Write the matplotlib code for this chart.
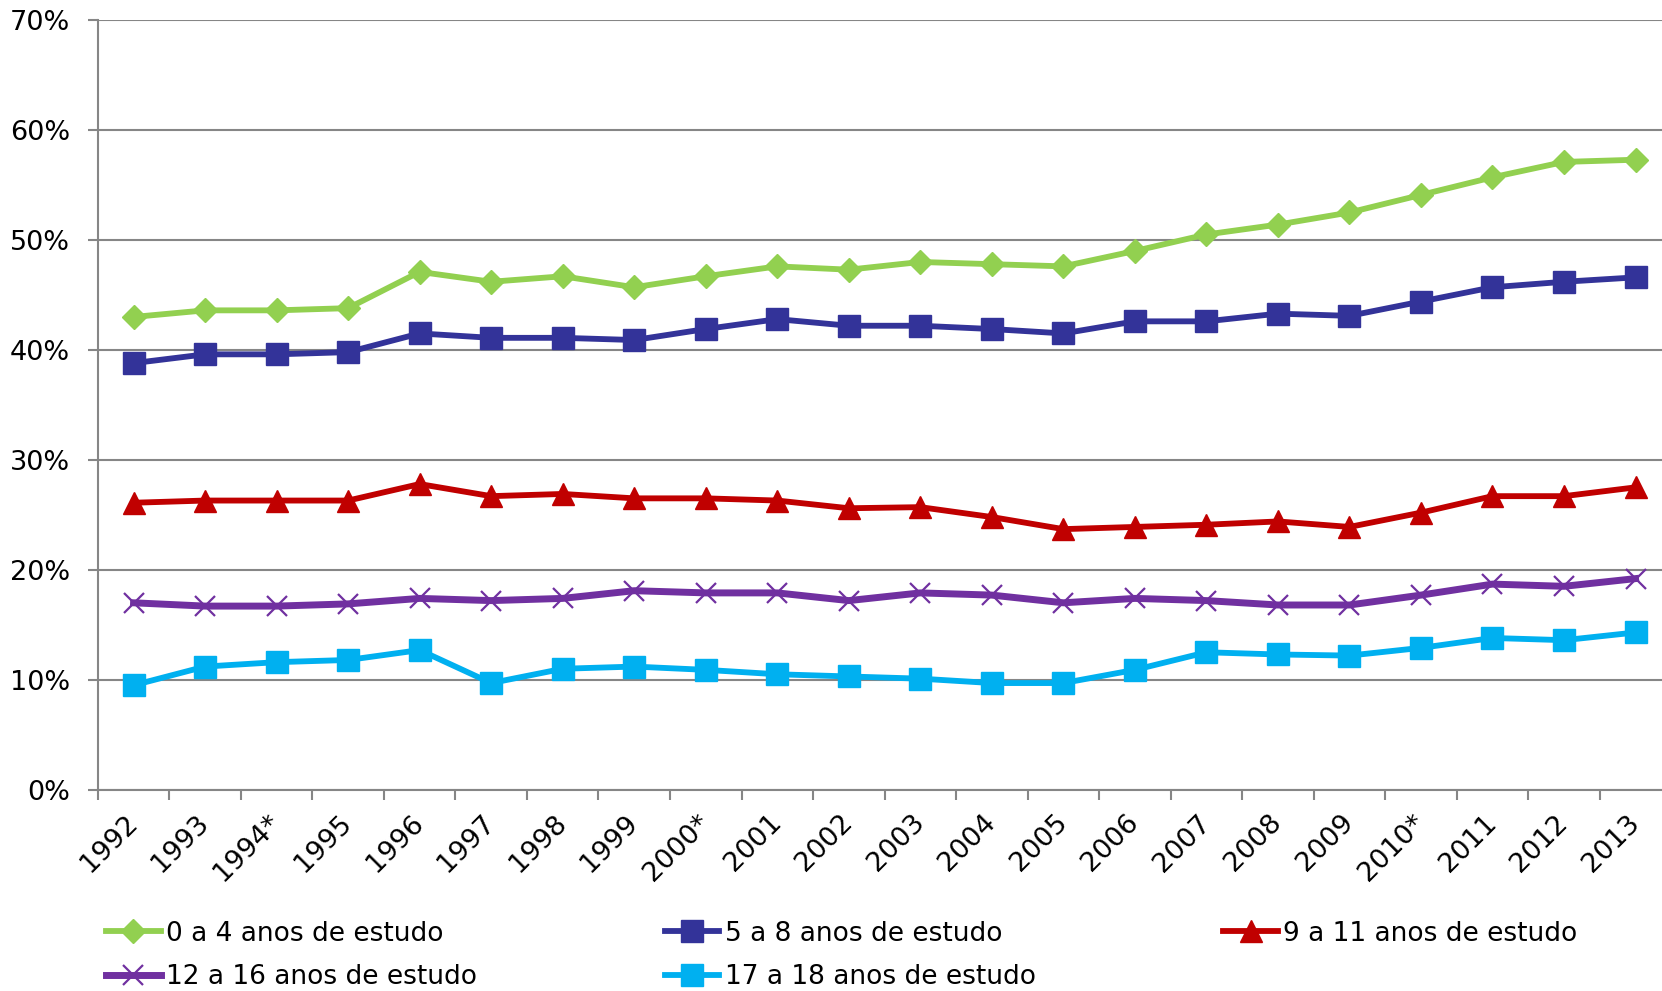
import matplotlib
matplotlib.use("Agg")
import matplotlib.pyplot as plt
import matplotlib.transforms as mtransforms
import numpy as np

years = ["1992", "1993", "1994*", "1995", "1996", "1997", "1998", "1999", "2000*", "2001",
         "2002", "2003", "2004", "2005", "2006", "2007", "2008", "2009", "2010*", "2011",
         "2012", "2013"]

s_0_4 = [43.0, 43.6, 43.6, 43.8, 47.1, 46.2, 46.7, 45.7, 46.7, 47.6, 47.3, 48.0, 47.8, 47.6,
         49.0, 50.5, 51.4, 52.5, 54.1, 55.7, 57.1, 57.3]
s_5_8 = [38.8, 39.6, 39.6, 39.8, 41.5, 41.1, 41.1, 40.9, 41.9, 42.8, 42.2, 42.2, 41.9, 41.5,
         42.6, 42.6, 43.3, 43.1, 44.4, 45.7, 46.2, 46.6]
s_9_11 = [26.1, 26.3, 26.3, 26.3, 27.8, 26.7, 26.9, 26.5, 26.5, 26.3, 25.6, 25.7, 24.8, 23.7,
          23.9, 24.1, 24.4, 23.9, 25.2, 26.7, 26.7, 27.5]
s_12_16 = [17.0, 16.7, 16.7, 16.9, 17.4, 17.2, 17.4, 18.1, 17.9, 17.9, 17.2, 17.9, 17.7, 17.0,
           17.4, 17.2, 16.8, 16.8, 17.7, 18.7, 18.5, 19.2]
s_17_18 = [9.5, 11.2, 11.6, 11.8, 12.7, 9.7, 11.0, 11.2, 10.9, 10.5, 10.3, 10.1, 9.7, 9.7,
           10.9, 12.5, 12.3, 12.2, 12.9, 13.8, 13.6, 14.3]

labels = ["0 a 4 anos de estudo", "5 a 8 anos de estudo", "9 a 11 anos de estudo",
          "12 a 16 anos de estudo", "17 a 18 anos de estudo"]
yticks = [0, 10, 20, 30, 40, 50, 60, 70]

plt.rcParams['font.family'] = ['DejaVu Sans']
FS = 19

fig = plt.figure(figsize=(16.62, 9.91), dpi=100)
ax = fig.add_axes([97.8 / 1662, 201.3 / 991, 1573.5 / 1662, 769.6 / 991])

x = np.arange(len(years))
gray = "#868686"

styles = [
    dict(color="#92D050", marker="D", markersize=12, lw=4.2),
    dict(color="#333399", marker="s", markersize=15.5, lw=4.2),
    dict(color="#C00000", marker="^", markersize=15.5, lw=4.2),
    dict(color="#7030A0", marker="x", markersize=15, lw=5.0, markeredgewidth=1.6),
    dict(color="#00B0F0", marker="s", markersize=16, lw=4.2),
]
series = [s_0_4, s_5_8, s_9_11, s_12_16, s_17_18]
handles = []
for data, st, lab in zip(series, styles, labels):
    h, = ax.plot(x, data, label=lab, solid_joinstyle="round", clip_on=False, **st)
    handles.append(h)

ax.set_xlim(-0.5, len(years) - 0.5)
ax.set_ylim(0, 70)
ax.set_yticks(yticks)
ax.set_yticklabels([f"{v}%" for v in yticks], fontsize=FS + 0.5)
ax.yaxis.grid(True, color=gray, lw=1.5)
ax.set_axisbelow(True)

ax.set_xticks(x)
ax.set_xticklabels(years, fontsize=FS + 0.5, rotation=45, ha="right", va="center",
                   rotation_mode="anchor")
offset = mtransforms.ScaledTranslation(4 / 100, 0, fig.dpi_scale_trans)
for lbl in ax.get_xticklabels():
    lbl.set_transform(lbl.get_transform() + offset)
ax.tick_params(axis="x", which="major", length=0, pad=21)
ax.set_xticks(np.arange(-0.5, len(years)), minor=True)
ax.tick_params(axis="x", which="minor", length=7, width=1.5, color=gray, direction="out")
ax.tick_params(axis="y", length=7, width=1.5, color=gray, pad=13)

for s in ["top", "right"]:
    ax.spines[s].set_visible(False)
for s in ["left", "bottom"]:
    ax.spines[s].set_color(gray)
    ax.spines[s].set_linewidth(1.5)

order = [0, 3, 1, 4, 2]
leg = fig.legend([handles[i] for i in order], [labels[i] for i in order],
                 loc="lower left", bbox_to_anchor=(106 / 1662, 0.001),
                 ncol=3, frameon=False, fontsize=FS, borderpad=0, borderaxespad=0,
                 handlelength=2.08, handletextpad=0.2, columnspacing=7.1,
                 labelspacing=0.66)

fig.savefig("out.png", dpi=100)
